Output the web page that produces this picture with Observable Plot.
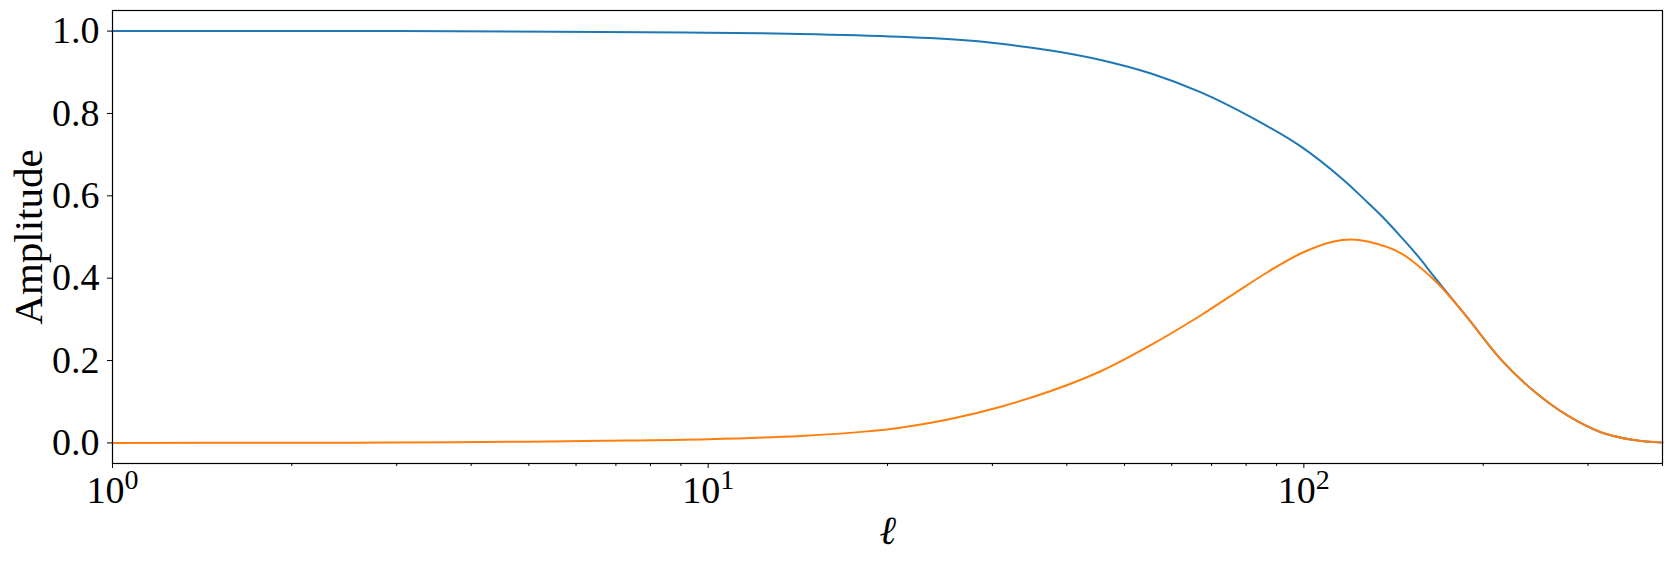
<!DOCTYPE html>
<html>
<head>
<meta charset="utf-8">
<script src="https://cdn.jsdelivr.net/npm/d3@7"></script>
<script src="https://cdn.jsdelivr.net/npm/@observablehq/plot@0.6"></script>
<style>
  html, body { margin: 0; padding: 0; background: #fff; }
  #chart svg { font-family: "Liberation Serif", "DejaVu Serif", serif; display: block; }
</style>
</head>
<body>
<div id="chart"></div>
<script>
// Multipole values (x) and amplitudes
const ellBlue = [1, 3, 6.6, 10, 14.3, 21, 27.3, 31, 37.6, 45.6, 55.4, 67.2, 81.5, 98.8, 116.7, 126.2, 136.1, 145.4, 155.3, 165.2, 176.4, 188.5, 214.1, 243.2, 277.4, 315.1, 358, 400];
const ampBlue = [1.000, 1.000, 0.998, 0.996, 0.993, 0.986, 0.977, 0.969, 0.953, 0.930, 0.897, 0.851, 0.791, 0.720, 0.638, 0.592, 0.546, 0.501, 0.454, 0.405, 0.354, 0.303, 0.203, 0.126, 0.066, 0.026, 0.007, 0.001];

const ellOrange = [1, 2, 3, 5, 6.6, 10, 14.3, 18.5, 21, 25.5, 31, 37.6, 45.6, 55.4, 67.2, 76.3, 87, 98.8, 112.2, 119.8, 128, 145.4, 165.2, 176.4, 188.5, 214.1, 243.2, 277.4, 315.1, 358, 400];
const ampOrange = [0.000, 0.0004, 0.001, 0.003, 0.005, 0.009, 0.017, 0.028, 0.037, 0.058, 0.088, 0.126, 0.174, 0.238, 0.310, 0.362, 0.415, 0.460, 0.489, 0.494, 0.489, 0.461, 0.397, 0.353, 0.303, 0.203, 0.126, 0.066, 0.026, 0.007, 0.001];

const xMajorTicks = [1, 10, 100];
const xMinorTicks = [2,3,4,5,6,7,8,9,20,30,40,50,60,70,80,90,200,300,400];
const yTicks = [0.0, 0.2, 0.4, 0.6, 0.8, 1.0];

const blue = ellBlue.map((l, i) => ({l, a: ampBlue[i]}));
const orange = ellOrange.map((l, i) => ({l, a: ampOrange[i]}));

const chart = Plot.plot({
  width: 1671,
  height: 562,
  marginLeft: 112,
  marginRight: 9,
  marginTop: 10,
  marginBottom: 99,
  x: {type: "log", domain: [1, 400]},
  y: {domain: [-0.05, 1.05]},
  marks: [
    Plot.line(blue, {x: "l", y: "a", stroke: "#1f77b4", strokeWidth: 2, curve: "catmull-rom"}),
    Plot.line(orange, {x: "l", y: "a", stroke: "#ff7f0e", strokeWidth: 2, curve: "catmull-rom"}),
    Plot.frame({stroke: "black", strokeWidth: 1.2}),
    Plot.axisX({ticks: xMinorTicks, tickSize: 3, tickFormat: () => "", label: null, strokeWidth: 1, ariaLabel: "x-minor"}),
    Plot.axisX({ticks: xMajorTicks, tickSize: 5, tickPadding: 8, tickFormat: d => String(Math.round(Math.log10(d))),
      fontSize: 38, label: "ℓ", labelAnchor: "center", labelOffset: 80, labelArrow: "none", strokeWidth: 1}),
    Plot.axisY({ticks: yTicks, tickSize: 5, tickPadding: 8, tickFormat: d3.format(".1f"),
      fontSize: 38, label: "Amplitude", labelAnchor: "center", labelOffset: 100, labelArrow: "none", strokeWidth: 1})
  ]
});

document.getElementById("chart").appendChild(chart);

const svg = d3.select(chart);
// drop the empty label texts of the minor tick axis
svg.selectAll('g[aria-label="x-axis tick label"] text').filter(function() { return d3.select(this).text() === ""; }).remove();
// Render x tick labels as 10 with a superscript exponent
svg.selectAll('g[aria-label="x-axis tick label"] text').each(function() {
  const t = d3.select(this);
  const exp = t.text();
  t.text("10");
  t.append("tspan").attr("dy", "-0.5em").attr("font-size", "28px").text(exp);
});
svg.selectAll('g[aria-label="x-axis label"] text').attr("font-style", "italic").attr("font-size", 40).attr("fill", "black");
svg.selectAll('g[aria-label="y-axis label"] text').attr("font-size", 41).attr("fill", "black");
svg.selectAll('g[aria-label="x-axis tick label"], g[aria-label="y-axis tick label"]').attr("fill", "black");
</script>
</body>
</html>
